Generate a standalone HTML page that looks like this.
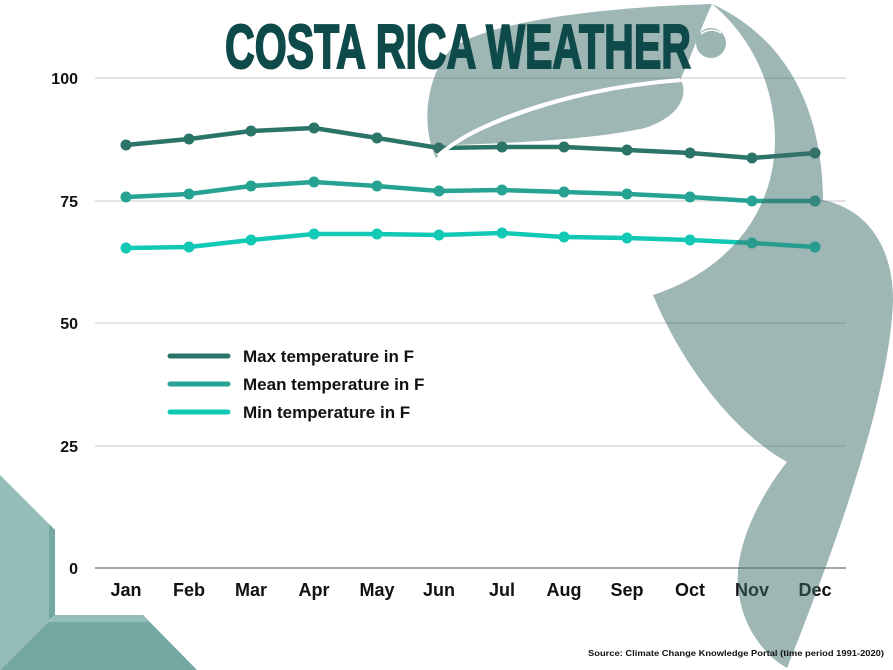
<!DOCTYPE html>
<html><head><meta charset="utf-8"><style>
html,body{margin:0;padding:0;background:#fff;}
svg{display:block;font-family:"Liberation Sans",sans-serif;}
</style></head><body>
<svg width="893" height="670" viewBox="0 0 893 670" xmlns="http://www.w3.org/2000/svg">
<rect width="893" height="670" fill="#fff"/>
<polygon points="0,475 55,530 55,615 0,670" fill="#94bcb8"/>
<polygon points="49,524 55,530 55,615 49,621" fill="#76a8a2"/>
<polygon points="49,621 143,615 197,670 0,670" fill="#76a8a2"/>
<polygon points="55,615 143,615 150,622 49,622" fill="#94bcb8"/>
<g stroke="#c8c8c8" stroke-width="1">
<line x1="95" y1="78" x2="846" y2="78"/>
<line x1="95" y1="201" x2="846" y2="201"/>
<line x1="95" y1="323" x2="846" y2="323"/>
<line x1="95" y1="446" x2="846" y2="446"/>
</g>
<line x1="95" y1="568" x2="846" y2="568" stroke="#888" stroke-width="1.5"/>
<g font-weight="bold" font-size="16" fill="#111" text-anchor="end">
<text x="78" y="84">100</text><text x="78" y="207">75</text><text x="78" y="329">50</text><text x="78" y="452">25</text><text x="78" y="574">0</text>
</g>
<g font-weight="bold" font-size="18" fill="#111" text-anchor="middle">
<text x="126" y="596">Jan</text><text x="189" y="596">Feb</text><text x="251" y="596">Mar</text><text x="314" y="596">Apr</text><text x="377" y="596">May</text><text x="439" y="596">Jun</text><text x="502" y="596">Jul</text><text x="564" y="596">Aug</text><text x="627" y="596">Sep</text><text x="690" y="596">Oct</text><text x="752" y="596">Nov</text><text x="815" y="596">Dec</text>
</g>
<g fill="none" stroke-width="4.5" stroke-linejoin="round">
<polyline stroke="#2a7468" points="126,145 189,139 251,131 314,128 377,138 439,148 502,147 564,147 627,150 690,153 752,158 815,153"/>
<polyline stroke="#26a393" points="126,197 189,194 251,186 314,182 377,186 439,191 502,190 564,192 627,194 690,197 752,201 815,201"/>
<polyline stroke="#12c9b5" points="126,248 189,247 251,240 314,234 377,234 439,235 502,233 564,237 627,238 690,240 752,243 815,247"/>
</g>
<g fill="#2a7468"><circle cx="126" cy="145" r="5.5"/><circle cx="189" cy="139" r="5.5"/><circle cx="251" cy="131" r="5.5"/><circle cx="314" cy="128" r="5.5"/><circle cx="377" cy="138" r="5.5"/><circle cx="439" cy="148" r="5.5"/><circle cx="502" cy="147" r="5.5"/><circle cx="564" cy="147" r="5.5"/><circle cx="627" cy="150" r="5.5"/><circle cx="690" cy="153" r="5.5"/><circle cx="752" cy="158" r="5.5"/><circle cx="815" cy="153" r="5.5"/></g>
<g fill="#26a393"><circle cx="126" cy="197" r="5.5"/><circle cx="189" cy="194" r="5.5"/><circle cx="251" cy="186" r="5.5"/><circle cx="314" cy="182" r="5.5"/><circle cx="377" cy="186" r="5.5"/><circle cx="439" cy="191" r="5.5"/><circle cx="502" cy="190" r="5.5"/><circle cx="564" cy="192" r="5.5"/><circle cx="627" cy="194" r="5.5"/><circle cx="690" cy="197" r="5.5"/><circle cx="752" cy="201" r="5.5"/><circle cx="815" cy="201" r="5.5"/></g>
<g fill="#12c9b5"><circle cx="126" cy="248" r="5.5"/><circle cx="189" cy="247" r="5.5"/><circle cx="251" cy="240" r="5.5"/><circle cx="314" cy="234" r="5.5"/><circle cx="377" cy="234" r="5.5"/><circle cx="439" cy="235" r="5.5"/><circle cx="502" cy="233" r="5.5"/><circle cx="564" cy="237" r="5.5"/><circle cx="627" cy="238" r="5.5"/><circle cx="690" cy="240" r="5.5"/><circle cx="752" cy="243" r="5.5"/><circle cx="815" cy="247" r="5.5"/></g>
<g fill="#3d6e6a" fill-opacity="0.5">
<path d="M436,158 C422,130 424,80 450,50 C480,25 580,8 712,4 C700,30 690,60 680,80 C600,85 500,105 436,158 Z"/>
<path d="M452,145 C520,108 610,86 682,82 C688,100 675,118 645,128 C590,140 510,143 452,145 Z"/>
<path d="M712,4 C780,35 822,100 823,200 C870,210 893,250 893,300 C890,400 830,560 787,668 C755,650 735,610 738,570 C742,530 765,490 787,462 C730,430 680,360 653,295 C730,270 775,210 775,140 C775,90 755,40 712,4 Z"/>
</g>
<path d="M438,156 C480,118 580,88 680,80" fill="none" stroke="#fff" stroke-width="4"/>
<circle cx="711" cy="43" r="15" fill="#9bb5b3"/>
<path d="M701,34 C707,29 715,29 721,33" fill="none" stroke="#fff" stroke-width="1.5"/>
<text x="458" y="68" text-anchor="middle" font-family="'Liberation Sans Narrow','Liberation Sans',sans-serif" font-weight="bold" font-size="62" fill="#0f4a4a" stroke="#0f4a4a" stroke-width="2" textLength="466" lengthAdjust="spacingAndGlyphs">COSTA RICA WEATHER</text>
<g stroke-width="5" stroke-linecap="round">
<line x1="170" y1="356" x2="228" y2="356" stroke="#2a7468"/>
<line x1="170" y1="384" x2="228" y2="384" stroke="#26a393"/>
<line x1="170" y1="412" x2="228" y2="412" stroke="#12c9b5"/>
</g>
<g font-weight="bold" font-size="17" fill="#111">
<text x="243" y="362">Max temperature in F</text>
<text x="243" y="390">Mean temperature in F</text>
<text x="243" y="418">Min temperature in F</text>
</g>
<text x="588" y="656" font-weight="bold" font-size="8.5" fill="#111" textLength="296" lengthAdjust="spacingAndGlyphs">Source: Climate Change Knowledge Portal (time period 1991-2020)</text>
</svg>
</body></html>
